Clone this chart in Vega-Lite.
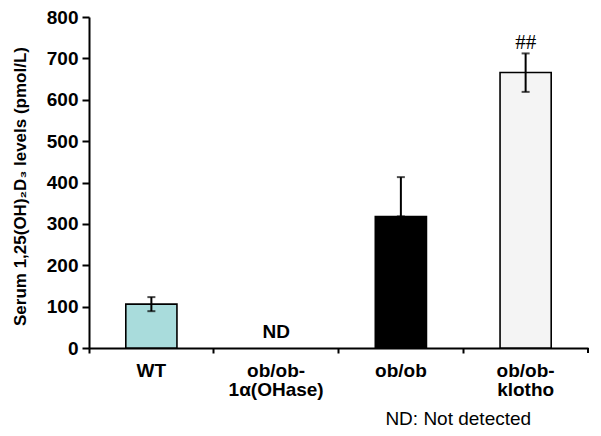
{
  "$schema": "https://vega.github.io/schema/vega-lite/v6.json",
  "width": 499,
  "height": 331,
  "autosize": {"type": "none"},
  "padding": {"left": 89, "top": 17, "right": 13, "bottom": 88},
  "background": "white",
  "config": {"view": {"stroke": null}, "font": "Liberation Sans"},
  "data": {
    "values": [
      {"group": "WT", "value": 106, "lower": 89, "upper": 123, "sig": "", "note": ""},
      {"group": "ob/ob-1α(OHase)", "value": null, "lower": null, "upper": null, "sig": "", "note": "ND"},
      {"group": "ob/ob", "value": 318, "lower": 318, "upper": 413, "sig": "", "note": ""},
      {"group": "ob/ob-klotho", "value": 666, "lower": 619, "upper": 712, "sig": "##", "note": ""}
    ]
  },
  "encoding": {
    "x": {
      "field": "group",
      "type": "nominal",
      "sort": null,
      "scale": {"domain": ["WT", "ob/ob-1α(OHase)", "ob/ob", "ob/ob-klotho"], "paddingInner": 0, "paddingOuter": 0},
      "axis": {
        "title": null,
        "bandPosition": 0,
        "labelAngle": 0,
        "domainColor": "black",
        "domainWidth": 2,
        "tickColor": "black",
        "tickWidth": 2,
        "tickSize": 5,
        "labelPadding": 8,
        "labelFont": "Liberation Sans",
        "labelFontWeight": "bold",
        "labelFontSize": 19,
        "labelColor": "black",
        "labelBaseline": "top",
        "labelLineHeight": 19,
        "labelExpr": "datum.value == 'ob/ob-1α(OHase)' ? ['ob/ob-', '1α(OHase)'] : datum.value == 'ob/ob-klotho' ? ['ob/ob-', 'klotho'] : datum.value"
      }
    }
  },
  "layer": [
    {
      "mark": {"type": "bar", "stroke": "black", "strokeWidth": 1.6, "width": {"band": 0.41}},
      "encoding": {
        "y": {
          "field": "value",
          "type": "quantitative",
          "scale": {"domain": [0, 800], "nice": false},
          "axis": {
            "title": "Serum 1,25(OH)₂D₃ levels (pmol/L)",
            "values": [0, 100, 200, 300, 400, 500, 600, 700, 800],
            "grid": false,
            "domainColor": "black",
            "domainWidth": 2,
            "tickColor": "black",
            "tickWidth": 2,
            "tickSize": 7,
            "labelPadding": 4,
            "labelFont": "Liberation Sans",
            "labelFontWeight": "bold",
            "labelFontSize": 19,
            "labelColor": "black",
            "titleFont": "Liberation Sans",
            "titleFontWeight": "bold",
            "titleFontSize": 17,
            "titleColor": "black",
            "titleAngle": -90,
            "titleAlign": "center",
            "titleBaseline": "middle",
            "titleX": -69,
            "titleY": 169
          }
        },
        "fill": {
          "field": "group",
          "type": "nominal",
          "legend": null,
          "scale": {"domain": ["WT", "ob/ob-1α(OHase)", "ob/ob", "ob/ob-klotho"], "range": ["#a9dcdc", "#ffffff", "#000000", "#f4f4f4"]}
        }
      }
    },
    {
      "mark": {"type": "rule", "color": "black", "strokeWidth": 2},
      "encoding": {
        "y": {"field": "lower", "type": "quantitative"},
        "y2": {"field": "upper"}
      }
    },
    {
      "mark": {"type": "tick", "color": "black", "size": 8, "thickness": 2},
      "encoding": {"y": {"field": "upper", "type": "quantitative"}}
    },
    {
      "mark": {"type": "tick", "color": "black", "size": 8, "thickness": 2},
      "encoding": {"y": {"field": "lower", "type": "quantitative"}}
    },
    {
      "transform": [{"filter": "datum.sig != ''"}],
      "mark": {"type": "text", "font": "Liberation Serif", "fontSize": 21, "baseline": "bottom", "dy": 0, "color": "black"},
      "encoding": {
        "y": {"field": "upper", "type": "quantitative"},
        "text": {"field": "sig"}
      }
    },
    {
      "transform": [{"filter": "datum.note != ''"}],
      "mark": {"type": "text", "font": "Liberation Sans", "fontWeight": "bold", "fontSize": 19, "baseline": "middle", "dy": -16, "color": "black"},
      "encoding": {
        "y": {"datum": 0},
        "text": {"field": "note"}
      }
    },
    {
      "data": {"values": [{"foot": "ND: Not detected"}]},
      "mark": {"type": "text", "font": "Liberation Sans", "fontSize": 19, "baseline": "middle", "align": "center", "dx": -5, "dy": 71, "color": "black"},
      "encoding": {
        "x": {"datum": "ob/ob-klotho", "bandPosition": 0},
        "y": {"datum": 0},
        "text": {"field": "foot"}
      }
    },
    {
      "data": {"values": [{"edge": "end"}]},
      "mark": {"type": "rule", "color": "black", "strokeWidth": 2},
      "encoding": {
        "x": {"datum": "ob/ob-klotho", "bandPosition": 1},
        "y": {"datum": 0},
        "y2": {"datum": -12}
      }
    }
  ]
}
